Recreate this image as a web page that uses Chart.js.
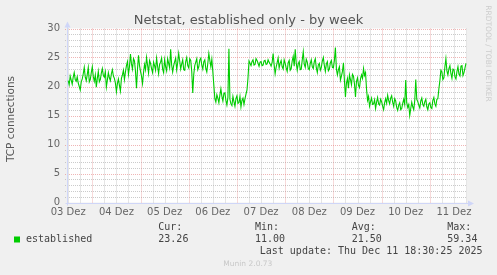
<!DOCTYPE html>
<html><head><meta charset="utf-8">
<script src="https://cdn.jsdelivr.net/npm/chart.js@4"></script>
<style>html,body{margin:0;padding:0;background:#F0F0F0;overflow:hidden}#wrap{width:497px;height:275px}</style>
</head><body><div id="wrap"><canvas id="c" width="497" height="275"></canvas></div>
<script>
// ---- data ----
const chartTitle = "Netstat, established only - by week";
const yAxisTitle = "TCP connections";
const seriesName = "established";
const dayLabels = ["03 Dez","04 Dez","05 Dez","06 Dez","07 Dez","08 Dez","09 Dez","10 Dez","11 Dez"];
const startHour = 12;      // first sample: hours after 03 Dez 00:00
const stepHours = 0.5;     // one sample every 30 minutes
const established = [
  21.0,20.3,21.8,21.1,20.4,21.6,22.4,21.2,20.9,21.7,20.6,20.0,19.4,20.8,21.3,22.2,23.3,21.6,21.0,22.1,23.3,20.8,21.2,22.4,
  23.4,21.7,20.9,22.0,19.9,21.4,22.6,20.8,21.2,22.3,23.1,21.9,21.6,22.5,19.9,21.1,22.4,21.5,21.0,22.2,22.9,21.8,21.4,20.6,
  19.1,20.5,21.3,20.2,19.2,21.4,22.0,22.8,21.2,22.5,23.6,24.3,22.1,23.4,25.6,23.9,23.0,24.8,24.4,22.6,19.7,23.0,25.4,23.6,
  22.6,21.8,20.5,22.4,23.8,22.9,25.0,23.7,22.3,24.5,24.0,23.1,22.4,24.2,23.6,22.8,24.9,23.5,22.2,23.8,24.2,24.9,23.0,22.4,
  24.6,23.4,22.7,24.8,24.0,23.2,26.4,23.7,22.5,23.6,24.3,24.9,22.9,24.1,25.7,24.4,23.0,23.9,24.6,22.9,22.8,24.3,25.0,23.6,
  23.2,24.8,24.5,22.6,18.9,22.1,23.6,24.2,24.8,22.9,23.4,24.6,24.9,23.7,23.0,24.3,24.6,23.1,22.5,24.0,25.7,24.5,23.4,24.7,
  22.5,20.2,17.9,17.3,18.6,18.0,17.2,18.5,19.6,18.3,17.5,18.8,18.9,17.6,16.8,18.1,26.5,17.8,17.0,16.7,18.3,17.4,16.6,17.9,
  18.4,17.1,17.2,18.3,16.5,17.6,18.0,16.9,17.9,18.7,19.4,21.5,24.4,24.0,23.6,24.3,24.6,23.7,23.8,24.8,24.5,24.0,23.5,24.2,
  24.3,23.6,23.7,24.4,24.5,23.8,23.9,24.6,24.2,23.9,23.5,24.1,25.7,23.8,22.2,23.3,24.1,24.9,23.2,24.0,24.5,23.4,23.0,24.6,
  24.0,23.2,22.6,24.1,24.5,22.8,23.1,24.4,25.2,23.5,26.4,24.1,22.8,23.9,24.3,22.9,23.0,24.6,26.0,23.8,23.3,24.7,24.2,23.1,
  22.9,24.0,24.6,23.4,23.1,24.3,24.8,23.2,22.4,23.7,24.0,22.8,23.3,24.4,25.0,23.6,22.6,23.9,24.3,22.7,23.0,24.1,24.5,23.3,
  23.2,24.5,26.7,23.0,22.0,22.9,23.4,21.1,21.8,22.6,24.1,21.0,18.2,20.6,21.4,19.7,22.0,21.2,20.3,22.1,21.8,20.4,18.2,20.9,
  21.5,20.2,19.8,21.3,22.0,21.4,23.1,21.9,22.4,19.5,17.6,18.3,16.6,17.4,18.0,16.9,17.0,17.7,16.2,17.3,18.1,17.0,16.8,17.8,
  17.4,16.6,16.0,17.2,17.9,17.1,18.5,17.6,17.0,18.0,18.4,17.3,16.6,17.9,17.5,16.4,15.9,16.8,17.2,16.0,16.2,17.1,17.8,16.9,
  21.1,17.2,16.4,16.9,15.0,16.2,17.3,16.5,16.0,17.6,21.2,17.8,17.4,16.8,16.3,17.5,18.0,16.9,16.6,17.4,17.8,16.5,16.0,17.0,
  17.2,16.4,16.2,17.6,18.1,17.0,16.6,17.8,17.9,19.6,21.0,22.8,22.5,21.2,21.5,23.4,24.8,22.7,22.0,23.1,23.6,22.2,21.4,23.0,
  22.9,21.7,21.3,22.6,23.4,22.1,21.8,23.5,23.6,21.9,22.4,23.2,24.0
];
const statLabels = ["Cur:","Min:","Avg:","Max:"];
const statValues = ["23.26","11.00","21.50","59.34"];
const lastUpdate = "Last update: Thu Dec 11 18:30:25 2025";
const footerText = "Munin 2.0.73";
const watermark = "RRDTOOL / TOBI OETIKER";

// ---- rendering ----
const points = established.map((v,i)=>({x:startHour+i*stepHours,y:v}));
const SANS = '"DejaVu Sans", sans-serif';
const MONO = '"DejaVu Sans Mono", monospace';
const MAJOR = 'rgba(225,120,120,0.55)';
const MINOR = 'rgba(185,185,185,0.75)';

const decor = {
  id:'decor',
  beforeDraw(chart){
    const {ctx, chartArea:a} = chart;
    ctx.save();
    ctx.fillStyle='#F0F0F0'; ctx.fillRect(0,0,chart.width,chart.height);
    ctx.fillStyle='#FFFFFF'; ctx.fillRect(a.left,a.top,a.right-a.left,a.bottom-a.top);
    ctx.restore();
  },
  beforeDatasetsDraw(chart){
    const {ctx, chartArea:a, scales:{x,y}} = chart;
    ctx.save();
    ctx.lineWidth=1; ctx.setLineDash([1,1]);
    for(let v=1; v<=30; v++){
      const py = Math.round(y.getPixelForValue(v))+0.5;
      ctx.strokeStyle = (v%5===0)?MAJOR:MINOR;
      ctx.beginPath(); ctx.moveTo(a.left-2,py); ctx.lineTo(a.right,py); ctx.stroke();
    }
    for(let h=12; h<=x.max; h+=6){
      const px = Math.round(x.getPixelForValue(h))+0.5;
      ctx.strokeStyle = (h%24===0)?MAJOR:MINOR;
      ctx.beginPath(); ctx.moveTo(px,a.top); ctx.lineTo(px,a.bottom+2); ctx.stroke();
    }
    ctx.setLineDash([]);
    ctx.strokeStyle='#CFD6F8'; ctx.fillStyle='#CFD6F8';
    const bx = Math.round(a.left)+0.5, by = Math.round(a.bottom)+0.5;
    ctx.beginPath(); ctx.moveTo(bx-2,by); ctx.lineTo(a.right+3,by); ctx.stroke();
    ctx.beginPath(); ctx.moveTo(bx,by+2); ctx.lineTo(bx,a.top-3); ctx.stroke();
    ctx.beginPath(); ctx.moveTo(a.right+7,by); ctx.lineTo(a.right+1,by-3); ctx.lineTo(a.right+1,by+3); ctx.closePath(); ctx.fill();
    ctx.beginPath(); ctx.moveTo(bx,a.top-7); ctx.lineTo(bx-3,a.top-1); ctx.lineTo(bx+3,a.top-1); ctx.closePath(); ctx.fill();
    ctx.restore();
  },
  afterDraw(chart){
    const {ctx} = chart;
    ctx.save();
    ctx.fillStyle='#555555'; ctx.font='13px '+SANS; ctx.textAlign='center'; ctx.textBaseline='alphabetic';
    ctx.fillText(chartTitle, 248.5, 24);
    ctx.save(); ctx.translate(11,119); ctx.rotate(-Math.PI/2);
    ctx.font='10.5px '+SANS; ctx.textBaseline='middle'; ctx.fillText(yAxisTitle,0,0); ctx.restore();
    ctx.save(); ctx.translate(487.5,53.5); ctx.rotate(Math.PI/2);
    ctx.fillStyle='#CCCCCC'; ctx.font='7.5px '+SANS; ctx.textBaseline='middle'; ctx.textAlign='center';
    ctx.fillText(watermark,0,0); ctx.restore();
    ctx.fillStyle='#00CC00'; ctx.fillRect(14,236.5,6,6);
    ctx.fillStyle='#444444'; ctx.font='10px '+MONO; ctx.textAlign='left'; ctx.textBaseline='middle';
    ctx.fillText(seriesName, 26, 239.5);
    const cols=[158.3,255,351.7,447.3];
    statLabels.forEach((l,i)=>{ ctx.fillText(l, cols[i], 227.7); ctx.fillText(statValues[i], cols[i], 239.5); });
    ctx.textAlign='right'; ctx.fillText(lastUpdate, 482.5, 251.7);
    ctx.fillStyle='#C8C8C8'; ctx.font='7.5px '+SANS; ctx.textAlign='center';
    ctx.fillText(footerText, 247.8, 264);
    ctx.restore();
  }
};

new Chart(document.getElementById('c'), {
  type:'line',
  data:{datasets:[{label:seriesName, data:points, borderColor:'#00CC00', borderWidth:1.1,
    pointRadius:0, tension:0, fill:false}]},
  options:{
    responsive:false, animation:false, devicePixelRatio:1,
    layout:{padding:{left:0,right:30,top:28.5,bottom:0}},
    plugins:{legend:{display:false}, title:{display:false}, tooltip:{enabled:false}},
    scales:{
      x:{type:'linear', min:11.41, max:210.5,
        afterBuildTicks:(s)=>{ s.ticks = dayLabels.map((d,i)=>({value:i*24+12})); },
        afterFit:(s)=>{ s.height=72.5; },
        grid:{display:false, drawTicks:false}, border:{display:false},
        ticks:{autoSkip:false, maxRotation:0, padding:4, color:'#666666',
          font:{family:SANS,size:10},
          callback:(v)=>dayLabels[Math.floor(v/24)]}
      },
      y:{min:0,max:30,
        afterFit:(s)=>{ s.width=67; },
        grid:{display:false, drawTicks:false}, border:{display:false},
        ticks:{stepSize:5, padding:7, color:'#666666', font:{family:SANS,size:10}}
      }
    }
  },
  plugins:[decor]
});
</script>
</body></html>
